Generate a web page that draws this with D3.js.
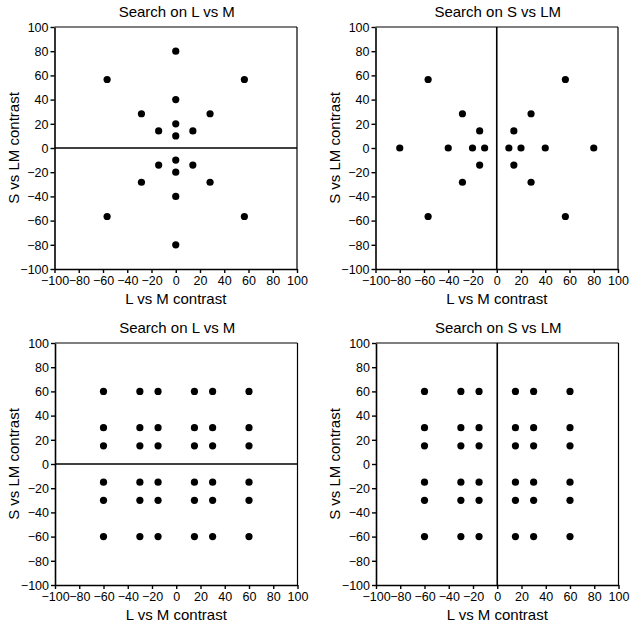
<!DOCTYPE html>
<html>
<head>
<meta charset="utf-8">
<script src="https://cdn.jsdelivr.net/npm/d3@7"></script>
<style>
  html, body { margin: 0; padding: 0; background: #fff; }
  svg { display: block; }
  text { font-family: "Liberation Sans", Arial, Helvetica, sans-serif; fill: #000; }
</style>
</head>
<body>
<script>
// ---- data ----
const panelTitles = ["Search on L vs M", "Search on S vs LM", "Search on L vs M", "Search on S vs LM"];
const xAxisTitle = "L vs M contrast";
const yAxisTitle = "S vs LM contrast";
const tickValues = [-100, -80, -60, -40, -20, 0, 20, 40, 60, 80, 100];

// Panel 1 (top-left): search on L vs M
const p1X = [0, 0, 0, 0, 0, 0, 0, 0, -56.6, 56.6, -56.6, 56.6, -28.3, 28.3, -28.3, 28.3, -14.1, 14.1, -14.1, 14.1];
const p1Y = [80, 40, 20, 10, -10, -20, -40, -80, 56.6, 56.6, -56.6, -56.6, 28.3, 28.3, -28.3, -28.3, 14.1, 14.1, -14.1, -14.1];

// Panel 2 (top-right): search on S vs LM
const p2X = [-80, -40, -20, -10, 10, 20, 40, 80, -56.6, 56.6, -56.6, 56.6, -28.3, 28.3, -28.3, 28.3, -14.1, 14.1, -14.1, 14.1];
const p2Y = [0, 0, 0, 0, 0, 0, 0, 0, 56.6, 56.6, -56.6, -56.6, 28.3, 28.3, -28.3, -28.3, 14.1, 14.1, -14.1, -14.1];

// Panels 3 & 4 (bottom): grid of distractors
const gridX = [-60, -30, -15, 15, 30, 60];
const gridY = [60, 30, 15, -15, -30, -60];

// reference line orientation per panel
const refLine = ["horizontal", "vertical", "horizontal", "vertical"];

// ---- build ----
const W = 635, H = 626;
const svg = d3.select("body").append("svg").attr("width", W).attr("height", H);

const zip = (xs, ys) => xs.map((x, i) => ({ x: x, y: ys[i] }));
const gridPts = d3.cross(gridY, gridX).map(([y, x]) => ({ x: x, y: y }));
const panelData = [zip(p1X, p1Y), zip(p2X, p2Y), gridPts, gridPts];

const origins = [[54.5, 27], [375.5, 27], [55, 343], [376, 343]];
const pw = 242.5, ph = 242;

panelData.forEach((pts, i) => {
  const [ox, oy] = origins[i];
  const g = svg.append("g").attr("transform", `translate(${ox},${oy})`);
  const x = d3.scaleLinear().domain([-100, 100]).range([0, pw]);
  const y = d3.scaleLinear().domain([-100, 100]).range([ph, 0]);

  // box top/right
  g.append("line").attr("x1", 0).attr("x2", pw).attr("y1", 0).attr("y2", 0)
    .attr("stroke", "#000").attr("stroke-width", 1.2);
  g.append("line").attr("x1", pw).attr("x2", pw).attr("y1", 0).attr("y2", ph)
    .attr("stroke", "#000").attr("stroke-width", 1.2);

  // axes
  const xa = g.append("g").attr("transform", `translate(0,${ph})`)
    .call(d3.axisBottom(x).tickValues(tickValues).tickSize(4).tickSizeOuter(0).tickPadding(3));
  const ya = g.append("g")
    .call(d3.axisLeft(y).tickValues(tickValues).tickSize(4).tickSizeOuter(0).tickPadding(2));
  [xa, ya].forEach(a => {
    a.select(".domain").attr("stroke", "#000").attr("stroke-width", 1.6);
    a.selectAll(".tick line").attr("stroke", "#000").attr("stroke-width", 1.4);
    a.selectAll(".tick text").attr("font-size", 12.5).attr("fill", "#000")
      .style("font-family", '"Liberation Sans", Arial, sans-serif');
  });
  ya.selectAll(".tick text").attr("dy", "0.35em");

  // reference line
  if (refLine[i] === "horizontal") {
    g.append("line").attr("x1", x(-100)).attr("x2", x(100)).attr("y1", y(0)).attr("y2", y(0))
      .attr("stroke", "#000").attr("stroke-width", 1.6);
  } else {
    g.append("line").attr("x1", x(0)).attr("x2", x(0)).attr("y1", y(-100)).attr("y2", y(100))
      .attr("stroke", "#000").attr("stroke-width", 1.6);
  }

  // points
  g.selectAll("circle.pt").data(pts).enter().append("circle")
    .attr("class", "pt")
    .attr("cx", d => x(d.x)).attr("cy", d => y(d.y)).attr("r", 3.6)
    .attr("fill", "#000");

  // titles
  g.append("text").attr("x", pw / 2 + 1).attr("y", -10.5)
    .attr("text-anchor", "middle").attr("font-size", 15).text(panelTitles[i]);
  g.append("text").attr("x", pw / 2).attr("y", ph + 34.5)
    .attr("text-anchor", "middle").attr("font-size", 15).text(xAxisTitle);
  g.append("text").attr("transform", `translate(-36,${ph / 2}) rotate(-90)`)
    .attr("text-anchor", "middle").attr("font-size", 15).text(yAxisTitle);
});
</script>
</body>
</html>
